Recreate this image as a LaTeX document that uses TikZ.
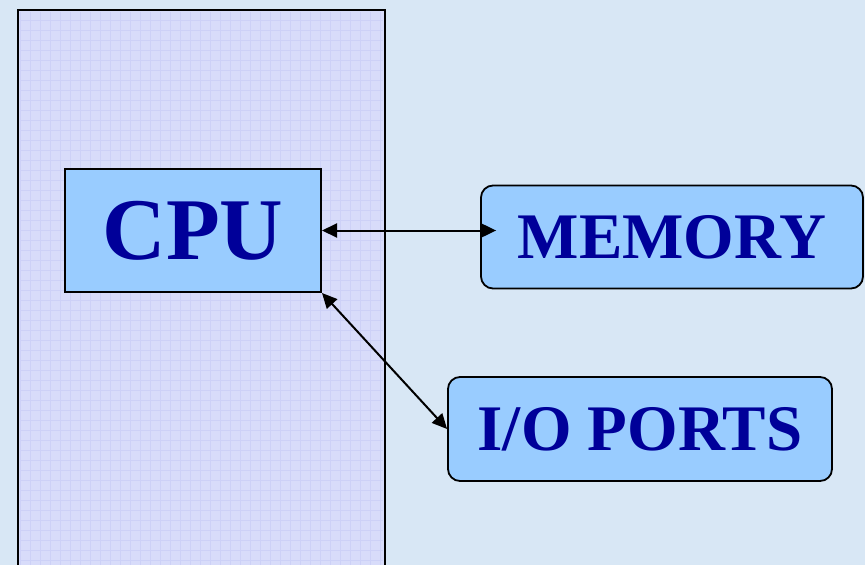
\documentclass[tikz,border=0pt]{standalone}
\usepackage{fontspec}
\setmainfont{Liberation Serif}
\usetikzlibrary{arrows.meta}
\definecolor{slide}{HTML}{D8E7F5}
\definecolor{panel}{HTML}{D8DCFA}
\definecolor{panelgrid}{HTML}{CDD1F7}
\definecolor{boxfill}{HTML}{99CCFF}
\definecolor{navy}{HTML}{000099}
\newcommand\bigtext{\fontsize{88}{88}\selectfont\bfseries}
\newcommand\midtext{\fontsize{65}{65}\selectfont\bfseries}

\begin{document}
\begin{tikzpicture}[x=1pt, y=-1pt, line width=2pt, >={Triangle[length=15pt,width=14pt]},
  unit/.style={draw, fill=boxfill, text=navy, inner sep=0pt},
  part/.style={unit, rounded corners=12pt, line width=1.8pt}]
\useasboundingbox (0,0) rectangle (865,565);
\fill[slide] (0,0) rectangle (865,565);
% the tall panel, cut off by the bottom edge
\begin{scope}
\clip (0,0) rectangle (865,565);
\fill[panel] (18,10) rectangle (385,580);
\draw[panelgrid, line width=0.5pt, step=10pt] (20,12) grid (383,565);
\draw (18,10) rectangle (385,580);
\end{scope}
\node[unit, minimum width=256pt, minimum height=123pt](cpu) at (193,230.5){\bigtext CPU};
\node[part, minimum width=382pt, minimum height=103pt](mem) at (672,237){\midtext MEMORY};
\node[part, minimum width=384pt, minimum height=104pt](io) at (640,429){\midtext I/O PORTS\hspace{16pt}};
\draw [<->, shorten >=-16pt](cpu.east) -- (cpu.east -| mem.west);
\draw [<->](cpu.south east) -- (io.west);
\end{tikzpicture}
\end{document}
